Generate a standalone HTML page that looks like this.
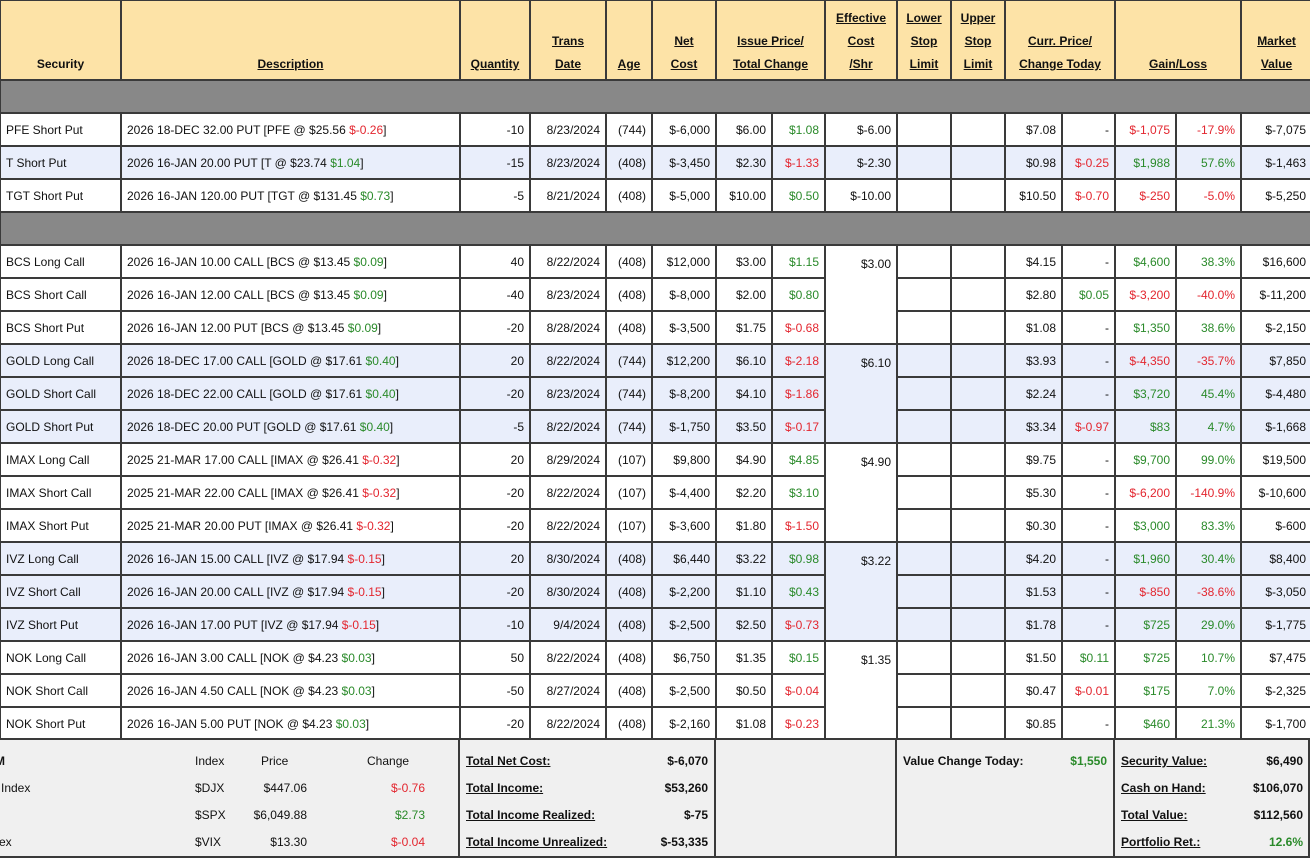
<!DOCTYPE html>
<html><head><meta charset="utf-8"><style>
body{margin:0;width:1310px;height:858px;overflow:hidden;background:#fff;font-family:"Liberation Sans",Arial,sans-serif;font-size:12px;color:#111;position:relative}
table{position:absolute;left:-1px;top:-1px;border-collapse:collapse;table-layout:fixed;width:1312px}
td{border:2px solid #3a3a3a;padding:0 5px;white-space:nowrap;overflow:hidden;text-align:right;height:31px}
td.l{text-align:left}
th{border:2px solid #3a3a3a;background:#fde3a7;font-weight:bold;text-decoration:underline;vertical-align:bottom;line-height:23px;padding:0 2px 3px;height:75px;font-size:12px}
th.nu{text-decoration:none}
tr.g td{background:#888;height:31px}
tr.b td{background:#e9eefb}
td.e{vertical-align:top;padding-top:11px}
.gr{color:#2a8a2a}.rd{color:#e3262f}
#f{position:absolute;left:0;top:738px;width:1308px;height:116px;background:#f0f0f0;border-top:2px solid #3a3a3a;border-bottom:2px solid #3a3a3a;border-right:2px solid #3a3a3a}
#f div{position:absolute;white-space:nowrap}
.v{position:absolute;top:0;width:2px;height:118px;background:#3a3a3a}
.u{text-decoration:underline;font-weight:bold}
.bd{font-weight:bold}
</style></head><body>
<table>
<colgroup><col style="width:121px"><col style="width:339px"><col style="width:70px"><col style="width:76px"><col style="width:46px"><col style="width:64px"><col style="width:56px"><col style="width:53px"><col style="width:72px"><col style="width:54px"><col style="width:54px"><col style="width:57px"><col style="width:53px"><col style="width:61px"><col style="width:65px"><col style="width:71px"></colgroup>
<tr><th class="nu">Security</th><th>Description</th><th>Quantity</th><th>Trans<br>Date</th><th>Age</th><th>Net<br>Cost</th><th colspan="2">Issue Price/<br>Total Change</th><th>Effective<br>Cost<br>/Shr</th><th>Lower<br>Stop<br>Limit</th><th>Upper<br>Stop<br>Limit</th><th colspan="2">Curr. Price/<br>Change Today</th><th colspan="2">Gain/Loss</th><th>Market<br>Value</th></tr>
<tr class="g"><td colspan="16"></td></tr>
<tr><td class="l">PFE Short Put</td><td class="l">2026 18-DEC 32.00 PUT [PFE @ $25.56 <span class="rd">$-0.26</span>]</td><td>-10</td><td>8/23/2024</td><td>(744)</td><td>$-6,000</td><td>$6.00</td><td class="gr">$1.08</td><td>$-6.00</td><td></td><td></td><td>$7.08</td><td>-</td><td class="rd">$-1,075</td><td class="rd">-17.9%</td><td>$-7,075</td></tr>
<tr class="b"><td class="l">T Short Put</td><td class="l">2026 16-JAN 20.00 PUT [T @ $23.74 <span class="gr">$1.04</span>]</td><td>-15</td><td>8/23/2024</td><td>(408)</td><td>$-3,450</td><td>$2.30</td><td class="rd">$-1.33</td><td>$-2.30</td><td></td><td></td><td>$0.98</td><td class="rd">$-0.25</td><td class="gr">$1,988</td><td class="gr">57.6%</td><td>$-1,463</td></tr>
<tr><td class="l">TGT Short Put</td><td class="l">2026 16-JAN 120.00 PUT [TGT @ $131.45 <span class="gr">$0.73</span>]</td><td>-5</td><td>8/21/2024</td><td>(408)</td><td>$-5,000</td><td>$10.00</td><td class="gr">$0.50</td><td>$-10.00</td><td></td><td></td><td>$10.50</td><td class="rd">$-0.70</td><td class="rd">$-250</td><td class="rd">-5.0%</td><td>$-5,250</td></tr>
<tr class="g"><td colspan="16"></td></tr>
<tr><td class="l">BCS Long Call</td><td class="l">2026 16-JAN 10.00 CALL [BCS @ $13.45 <span class="gr">$0.09</span>]</td><td>40</td><td>8/22/2024</td><td>(408)</td><td>$12,000</td><td>$3.00</td><td class="gr">$1.15</td><td class="e" rowspan="3">$3.00</td><td></td><td></td><td>$4.15</td><td>-</td><td class="gr">$4,600</td><td class="gr">38.3%</td><td>$16,600</td></tr>
<tr><td class="l">BCS Short Call</td><td class="l">2026 16-JAN 12.00 CALL [BCS @ $13.45 <span class="gr">$0.09</span>]</td><td>-40</td><td>8/23/2024</td><td>(408)</td><td>$-8,000</td><td>$2.00</td><td class="gr">$0.80</td><td></td><td></td><td>$2.80</td><td class="gr">$0.05</td><td class="rd">$-3,200</td><td class="rd">-40.0%</td><td>$-11,200</td></tr>
<tr><td class="l">BCS Short Put</td><td class="l">2026 16-JAN 12.00 PUT [BCS @ $13.45 <span class="gr">$0.09</span>]</td><td>-20</td><td>8/28/2024</td><td>(408)</td><td>$-3,500</td><td>$1.75</td><td class="rd">$-0.68</td><td></td><td></td><td>$1.08</td><td>-</td><td class="gr">$1,350</td><td class="gr">38.6%</td><td>$-2,150</td></tr>
<tr class="b"><td class="l">GOLD Long Call</td><td class="l">2026 18-DEC 17.00 CALL [GOLD @ $17.61 <span class="gr">$0.40</span>]</td><td>20</td><td>8/22/2024</td><td>(744)</td><td>$12,200</td><td>$6.10</td><td class="rd">$-2.18</td><td class="e" rowspan="3">$6.10</td><td></td><td></td><td>$3.93</td><td>-</td><td class="rd">$-4,350</td><td class="rd">-35.7%</td><td>$7,850</td></tr>
<tr class="b"><td class="l">GOLD Short Call</td><td class="l">2026 18-DEC 22.00 CALL [GOLD @ $17.61 <span class="gr">$0.40</span>]</td><td>-20</td><td>8/23/2024</td><td>(744)</td><td>$-8,200</td><td>$4.10</td><td class="rd">$-1.86</td><td></td><td></td><td>$2.24</td><td>-</td><td class="gr">$3,720</td><td class="gr">45.4%</td><td>$-4,480</td></tr>
<tr class="b"><td class="l">GOLD Short Put</td><td class="l">2026 18-DEC 20.00 PUT [GOLD @ $17.61 <span class="gr">$0.40</span>]</td><td>-5</td><td>8/22/2024</td><td>(744)</td><td>$-1,750</td><td>$3.50</td><td class="rd">$-0.17</td><td></td><td></td><td>$3.34</td><td class="rd">$-0.97</td><td class="gr">$83</td><td class="gr">4.7%</td><td>$-1,668</td></tr>
<tr><td class="l">IMAX Long Call</td><td class="l">2025 21-MAR 17.00 CALL [IMAX @ $26.41 <span class="rd">$-0.32</span>]</td><td>20</td><td>8/29/2024</td><td>(107)</td><td>$9,800</td><td>$4.90</td><td class="gr">$4.85</td><td class="e" rowspan="3">$4.90</td><td></td><td></td><td>$9.75</td><td>-</td><td class="gr">$9,700</td><td class="gr">99.0%</td><td>$19,500</td></tr>
<tr><td class="l">IMAX Short Call</td><td class="l">2025 21-MAR 22.00 CALL [IMAX @ $26.41 <span class="rd">$-0.32</span>]</td><td>-20</td><td>8/22/2024</td><td>(107)</td><td>$-4,400</td><td>$2.20</td><td class="gr">$3.10</td><td></td><td></td><td>$5.30</td><td>-</td><td class="rd">$-6,200</td><td class="rd">-140.9%</td><td>$-10,600</td></tr>
<tr><td class="l">IMAX Short Put</td><td class="l">2025 21-MAR 20.00 PUT [IMAX @ $26.41 <span class="rd">$-0.32</span>]</td><td>-20</td><td>8/22/2024</td><td>(107)</td><td>$-3,600</td><td>$1.80</td><td class="rd">$-1.50</td><td></td><td></td><td>$0.30</td><td>-</td><td class="gr">$3,000</td><td class="gr">83.3%</td><td>$-600</td></tr>
<tr class="b"><td class="l">IVZ Long Call</td><td class="l">2026 16-JAN 15.00 CALL [IVZ @ $17.94 <span class="rd">$-0.15</span>]</td><td>20</td><td>8/30/2024</td><td>(408)</td><td>$6,440</td><td>$3.22</td><td class="gr">$0.98</td><td class="e" rowspan="3">$3.22</td><td></td><td></td><td>$4.20</td><td>-</td><td class="gr">$1,960</td><td class="gr">30.4%</td><td>$8,400</td></tr>
<tr class="b"><td class="l">IVZ Short Call</td><td class="l">2026 16-JAN 20.00 CALL [IVZ @ $17.94 <span class="rd">$-0.15</span>]</td><td>-20</td><td>8/30/2024</td><td>(408)</td><td>$-2,200</td><td>$1.10</td><td class="gr">$0.43</td><td></td><td></td><td>$1.53</td><td>-</td><td class="rd">$-850</td><td class="rd">-38.6%</td><td>$-3,050</td></tr>
<tr class="b"><td class="l">IVZ Short Put</td><td class="l">2026 16-JAN 17.00 PUT [IVZ @ $17.94 <span class="rd">$-0.15</span>]</td><td>-10</td><td>9/4/2024</td><td>(408)</td><td>$-2,500</td><td>$2.50</td><td class="rd">$-0.73</td><td></td><td></td><td>$1.78</td><td>-</td><td class="gr">$725</td><td class="gr">29.0%</td><td>$-1,775</td></tr>
<tr><td class="l">NOK Long Call</td><td class="l">2026 16-JAN 3.00 CALL [NOK @ $4.23 <span class="gr">$0.03</span>]</td><td>50</td><td>8/22/2024</td><td>(408)</td><td>$6,750</td><td>$1.35</td><td class="gr">$0.15</td><td class="e" rowspan="3">$1.35</td><td></td><td></td><td>$1.50</td><td class="gr">$0.11</td><td class="gr">$725</td><td class="gr">10.7%</td><td>$7,475</td></tr>
<tr><td class="l">NOK Short Call</td><td class="l">2026 16-JAN 4.50 CALL [NOK @ $4.23 <span class="gr">$0.03</span>]</td><td>-50</td><td>8/27/2024</td><td>(408)</td><td>$-2,500</td><td>$0.50</td><td class="rd">$-0.04</td><td></td><td></td><td>$0.47</td><td class="rd">$-0.01</td><td class="gr">$175</td><td class="gr">7.0%</td><td>$-2,325</td></tr>
<tr><td class="l">NOK Short Put</td><td class="l">2026 16-JAN 5.00 PUT [NOK @ $4.23 <span class="gr">$0.03</span>]</td><td>-20</td><td>8/22/2024</td><td>(408)</td><td>$-2,160</td><td>$1.08</td><td class="rd">$-0.23</td><td></td><td></td><td>$0.85</td><td>-</td><td class="gr">$460</td><td class="gr">21.3%</td><td>$-1,700</td></tr>
</table>
<div id="f">
<div class="v" style="left:458px"></div><div class="v" style="left:714px"></div><div class="v" style="left:895px"></div><div class="v" style="left:1113px"></div>
<div class="bd" style="left:-5px;top:14px">M</div><div style="left:195px;top:14px">Index</div><div style="left:261px;top:14px">Price</div><div style="left:367px;top:14px">Change</div>
<div style="left:1px;top:41px">Index</div><div style="left:195px;top:41px">$DJX</div><div style="right:1001px;top:41px">$447.06</div><div class="rd" style="right:883px;top:41px">$-0.76</div>
<div style="left:195px;top:68px">$SPX</div><div style="right:1001px;top:68px">$6,049.88</div><div class="gr" style="right:883px;top:68px">$2.73</div>
<div style="left:-1px;top:95px">ex</div><div style="left:195px;top:95px">$VIX</div><div style="right:1001px;top:95px">$13.30</div><div class="rd" style="right:883px;top:95px">$-0.04</div>
<div class="u" style="left:466px;top:14px">Total Net Cost:</div><div class="bd" style="right:600px;top:14px">$-6,070</div>
<div class="u" style="left:466px;top:41px">Total Income:</div><div class="bd" style="right:600px;top:41px">$53,260</div>
<div class="u" style="left:466px;top:68px">Total Income Realized:</div><div class="bd" style="right:600px;top:68px">$-75</div>
<div class="u" style="left:466px;top:95px">Total Income Unrealized:</div><div class="bd" style="right:600px;top:95px">$-53,335</div>
<div class="bd" style="left:903px;top:14px">Value Change Today:</div><div class="bd gr" style="right:201px;top:14px">$1,550</div>
<div class="u" style="left:1121px;top:14px">Security Value:</div><div class="bd" style="right:5px;top:14px">$6,490</div>
<div class="u" style="left:1121px;top:41px">Cash on Hand:</div><div class="bd" style="right:5px;top:41px">$106,070</div>
<div class="u" style="left:1121px;top:68px">Total Value:</div><div class="bd" style="right:5px;top:68px">$112,560</div>
<div class="u" style="left:1121px;top:95px">Portfolio Ret.:</div><div class="bd gr" style="right:5px;top:95px">12.6%</div>
</div>
</body></html>
